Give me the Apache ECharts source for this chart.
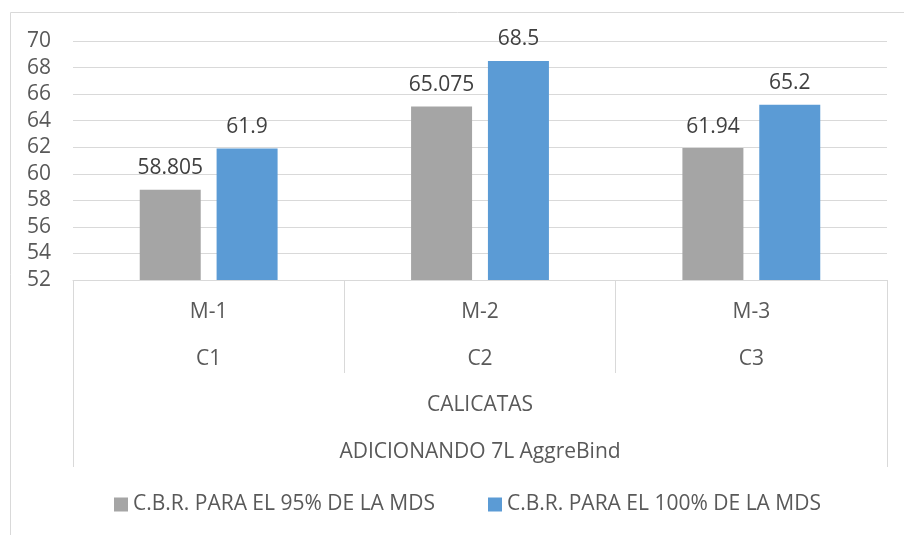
<!DOCTYPE html>
<html>
<head>
<meta charset="utf-8">
<script src="https://cdn.jsdelivr.net/npm/echarts@6/dist/echarts.min.js"></script>
<style>
  html, body { margin: 0; padding: 0; background: #fff; }
  #chart { width: 904px; height: 535px; }
</style>
</head>
<body>
<div id="chart"></div>
<script>
// Category levels under the bars
const muestras = ['M-1', 'M-2', 'M-3'];
const calicatas = ['C1', 'C2', 'C3'];
const grupo = ['CALICATAS'];
const aditivo = ['ADICIONANDO 7L AggreBind'];

// C.B.R. values per series
const serie95Name = 'C.B.R. PARA EL 95% DE LA MDS';
const serie95 = [58.805, 65.075, 61.94];
const serie100Name = 'C.B.R. PARA EL 100% DE LA MDS';
const serie100 = [61.9, 68.5, 65.2];

// Value axis range
const yMin = 52, yMax = 70, yStep = 2;

const FONT = 'Open Sans';
const TXT = '#595959';
const LINE = '#d9d9d9';
const FS = 21;

const chart = echarts.init(document.getElementById('chart'), null, { renderer: 'canvas' });

function levelAxis(data, margin, showLine, tickLen) {
  return {
    type: 'category',
    data: data,
    position: 'bottom',
    gridIndex: 0,
    axisLine: { show: showLine, lineStyle: { color: LINE, width: 1 } },
    axisTick: tickLen ? { show: true, length: tickLen, lineStyle: { color: LINE, width: 1 } } : { show: false },
    axisLabel: { margin: margin, color: TXT, fontFamily: FONT, fontSize: FS },
    splitLine: { show: false }
  };
}

chart.setOption({
  animation: false,
  textStyle: { fontFamily: FONT },
  graphic: [{
    type: 'rect',
    shape: { x: 10.5, y: 12.5, width: 1000, height: 1000 },
    style: { fill: 'none', stroke: LINE, lineWidth: 1 },
    silent: true,
    z: -10
  }],
  grid: { left: 73, right: 17, top: 41, bottom: 255, containLabel: false },
  legend: {
    bottom: 15,
    left: 109,
    itemWidth: 14,
    itemHeight: 14,
    itemGap: 53,
    icon: 'rect',
    textStyle: { color: TXT, fontFamily: FONT, fontSize: FS },
    data: [serie95Name, serie100Name]
  },
  xAxis: [
    levelAxis(muestras, 22, true, 93),
    levelAxis(calicatas, 69, false, 0),
    levelAxis(grupo, 115, false, 187),
    levelAxis(aditivo, 162, false, 0)
  ],
  yAxis: {
    type: 'value',
    min: yMin,
    max: yMax,
    interval: yStep,
    axisLine: { show: false },
    axisTick: { show: false },
    axisLabel: { margin: 22, color: TXT, fontFamily: FONT, fontSize: FS },
    splitLine: { lineStyle: { color: LINE, width: 1 } }
  },
  series: [
    {
      name: serie95Name,
      type: 'bar',
      data: serie95,
      barWidth: 61,
      barGap: '26%',
      itemStyle: { color: '#a5a5a5' },
      label: { show: true, position: 'top', distance: 11, color: '#404040', fontFamily: FONT, fontSize: FS,
               formatter: p => String(p.value) }
    },
    {
      name: serie100Name,
      type: 'bar',
      data: serie100,
      barWidth: 61,
      barGap: '26%',
      itemStyle: { color: '#5b9bd5' },
      label: { show: true, position: 'top', distance: 11, color: '#404040', fontFamily: FONT, fontSize: FS,
               formatter: p => String(p.value) }
    }
  ]
});
</script>
</body>
</html>
